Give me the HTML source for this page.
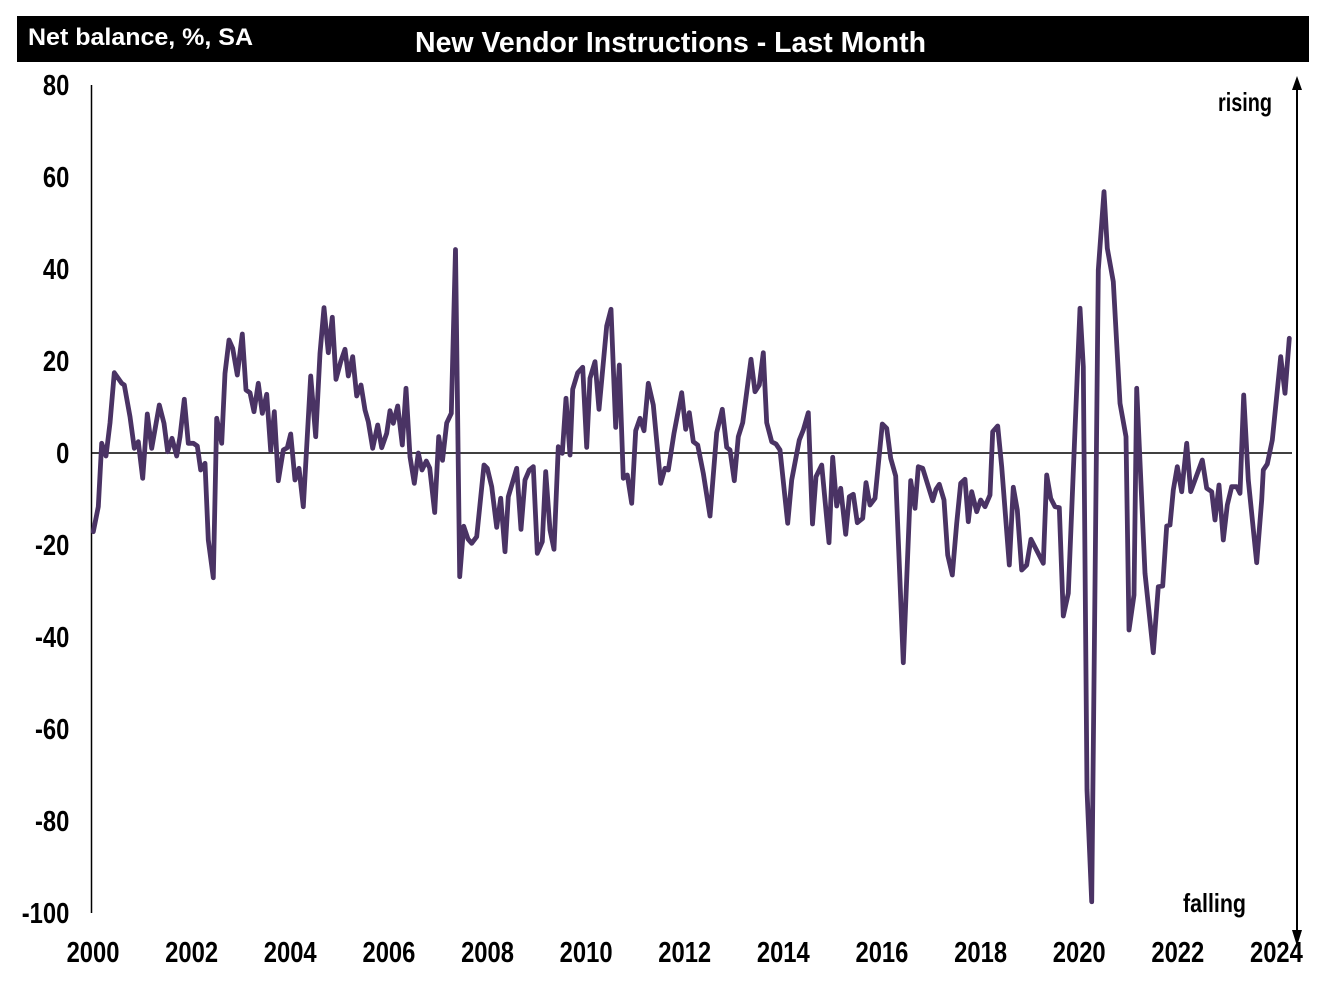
<!DOCTYPE html>
<html>
<head>
<meta charset="utf-8">
<style>
  html,body{margin:0;padding:0;background:#fff;}
  svg{display:block;}
  text{font-family:"Liberation Sans",Arial,sans-serif;font-weight:bold;}
</style>
</head>
<body>
<svg width="1328" height="990" viewBox="0 0 1328 990" xmlns="http://www.w3.org/2000/svg">
  <rect x="0" y="0" width="1328" height="990" fill="#fff"/>
  <!-- Title bar -->
  <rect x="17" y="16" width="1292" height="46" fill="#000"/>
  <text x="28" y="45" font-size="24" fill="#fff" textLength="225" lengthAdjust="spacingAndGlyphs">Net balance, %, SA</text>
  <text x="415" y="52" font-size="29" fill="#fff" textLength="511" lengthAdjust="spacingAndGlyphs">New Vendor Instructions - Last Month</text>

  <!-- Y axis -->
  <line x1="91.5" y1="85" x2="91.5" y2="913" stroke="#000" stroke-width="1.5"/>
  <!-- zero line -->
  <line x1="91" y1="453" x2="1292" y2="453" stroke="#000" stroke-width="1.5"/>

  <!-- Y labels -->
  <g font-size="29" fill="#000" text-anchor="end">
    <text transform="translate(69.3,95) scale(0.82,1)">80</text>
    <text transform="translate(69.3,187) scale(0.82,1)">60</text>
    <text transform="translate(69.3,279) scale(0.82,1)">40</text>
    <text transform="translate(69.3,371) scale(0.82,1)">20</text>
    <text transform="translate(69.3,463) scale(0.82,1)">0</text>
    <text transform="translate(69.3,555) scale(0.82,1)">-20</text>
    <text transform="translate(69.3,647) scale(0.82,1)">-40</text>
    <text transform="translate(69.3,739) scale(0.82,1)">-60</text>
    <text transform="translate(69.3,831) scale(0.82,1)">-80</text>
    <text transform="translate(69.3,923) scale(0.82,1)">-100</text>
  </g>

  <!-- X labels -->
  <g font-size="29" fill="#000" text-anchor="middle">
    <text transform="translate(93,962) scale(0.82,1)">2000</text>
    <text transform="translate(191.6,962) scale(0.82,1)">2002</text>
    <text transform="translate(290.2,962) scale(0.82,1)">2004</text>
    <text transform="translate(388.9,962) scale(0.82,1)">2006</text>
    <text transform="translate(487.5,962) scale(0.82,1)">2008</text>
    <text transform="translate(586.1,962) scale(0.82,1)">2010</text>
    <text transform="translate(684.7,962) scale(0.82,1)">2012</text>
    <text transform="translate(783.3,962) scale(0.82,1)">2014</text>
    <text transform="translate(881.9,962) scale(0.82,1)">2016</text>
    <text transform="translate(980.6,962) scale(0.82,1)">2018</text>
    <text transform="translate(1079.2,962) scale(0.82,1)">2020</text>
    <text transform="translate(1177.8,962) scale(0.82,1)">2022</text>
    <text transform="translate(1276.4,962) scale(0.82,1)">2024</text>
  </g>

  <!-- rising / falling -->
  <text x="1218" y="111" font-size="26" fill="#000" textLength="54" lengthAdjust="spacingAndGlyphs">rising</text>
  <text x="1183" y="912" font-size="26" fill="#000" textLength="63" lengthAdjust="spacingAndGlyphs">falling</text>

  <!-- Right arrow -->
  <line x1="1297" y1="88" x2="1297" y2="932" stroke="#000" stroke-width="2"/>
  <polygon points="1297,76 1292,90 1302,90" fill="#000"/>
  <polygon points="1297,946 1292,930 1302,930" fill="#000"/>

  <!-- Series -->
  <polyline fill="none" stroke="#4a3364" stroke-width="4.8" stroke-linejoin="round" stroke-linecap="round" points="
93.3,531.7 98.3,506.7 101.7,443.3 106,456 110,423 114.3,372.7 121.7,383.3 124.3,385 130,416.7 134.3,448.3
138.3,441.7 142.7,478.3 147.3,414 151.7,448.3 159.3,405 164,423.3 167.7,451.7 172,438.3 176.7,456 180,436.7
184.3,399.3 188.3,443.3 193.3,443.3 197.3,446 200.7,470 205,463.3 208.3,540 213.3,577.7 216.7,418.3 221.7,443.3
225,373.3 229,340 232.7,348.3 237.3,375 242.3,334 246,390 250,392.7 254,411.7 258.3,383.3 262.3,413.3
266.7,394.3 270.7,450.7 274.3,411.7 278.3,480.7 283.3,450 287.3,447.7 290.7,434 295,480 299,468.3 303.3,506.7
310.7,376 315.7,436.7 320,353.3 324,307.7 328.3,352.7 332.3,317.3 336,379.3 340.7,361.7 345,349.3 348.3,376
352.7,356.7 356.7,396 361,385 365,410 368.3,421.7 372.7,448.3 377.7,425 381.7,447.7 386.7,433.3 390,410.7
393.3,423.3 397.7,406 402.3,445 406,388.3 410,456.7 414.3,483.3 418.3,453 422,470 426.3,461 429.7,468
434.7,512.5 438.7,436.7 442.5,460.3 446.7,423 451.3,413.3 455.5,249.5 459.7,576.7 463.7,526.3 468,539 471.7,543.3
476.7,536.7 484,465 487.3,468.3 491.7,486.7 496.7,527.3 500.7,498.3 505,551.7 508.3,496.7 516.7,468.3 521,529.3
525,480 529.3,470 533.3,466.7 537.3,553.3 542.3,541.7 545.7,471.7 550,530 554,549.3 558.3,446.7 562.3,453.3
566,398.3 570,455 572.7,389.3 577.7,372.7 582.7,367.3 586.7,447.3 590,378.3 595,361.7 599,409.3 606.7,326
611,309.3 615.7,427.3 619.3,365 623.3,478.3 627.3,475 631.7,503.3 635.7,430.7 640,418.3 644,430.7 648.3,383.3
653.3,405 660.7,483.3 665,468.3 668.3,470 674,433.3 681.7,392.7 685.7,429.3 689.3,412.7 693.3,441.7 697.7,445
703.3,473.3 710,516 716.7,432.7 722.3,409.3 726.7,447.3 730,450 734.3,480.7 738.3,436.7 742.7,422.7 751,359.3
755,391.7 759.3,385 763.3,352.7 766.7,422.7 771.7,441.7 776,444 780,450 787.7,523.3 791.7,480 799.3,440
803.3,430 808.3,412.7 812.5,524 816,476.7 821.7,465 829,542.7 832.7,457.3 836.7,506 840.7,488.3 845.7,534.3
849.3,496.7 853.3,494.3 857.3,522.7 862.7,518.3 866,482.7 870,505 875,498.3 882.3,424 886.7,428.3 890.7,458.3
895.7,476 903.3,662.7 910.7,480.7 915,508.3 918.3,466.7 922.7,468.3 932.7,500.7 936,489.3 939.3,484.3 944,500
947.7,555 952.3,575 956.7,523.3 960.7,483.3 965,479.3 968.3,521.7 971.7,491.7 976.7,511.7 980.7,500 985,506.7
990,495 992.7,431.7 997.7,426 1001.7,466.7 1009.3,565 1013.3,487.3 1017.3,510 1021.7,570 1026.7,565 1031,539.3
1043.3,563.3 1046.7,475 1050.7,498.3 1055,506.7 1059.3,507.7 1063.3,616 1068.3,593.3 1080,308.3 1083.3,366.7 1087,790
1091.7,901.7 1098.3,270 1104,191.7 1107.3,248.3 1113.3,281.7 1120,403.3 1126,436.7 1129,630 1134,595 1136.7,388.3
1145,573.3 1153.3,652.7 1158.3,586.7 1162.7,586 1166.7,526 1170,525 1173.3,490 1177.3,466.7 1181.7,491.7 1186.7,443.3
1190.7,491.7 1202.3,460 1206.7,488.3 1211.7,491.7 1215,520 1219,485 1223.3,540 1227.3,505 1231.7,486.7 1236.7,486.7
1240,493.3 1243.7,395 1248.3,480 1256.7,562.7 1261.7,500 1263.3,470 1267.3,464 1272.3,440 1280.7,356.7 1285,393.3
1289.3,338.3"/>
</svg>
</body>
</html>
